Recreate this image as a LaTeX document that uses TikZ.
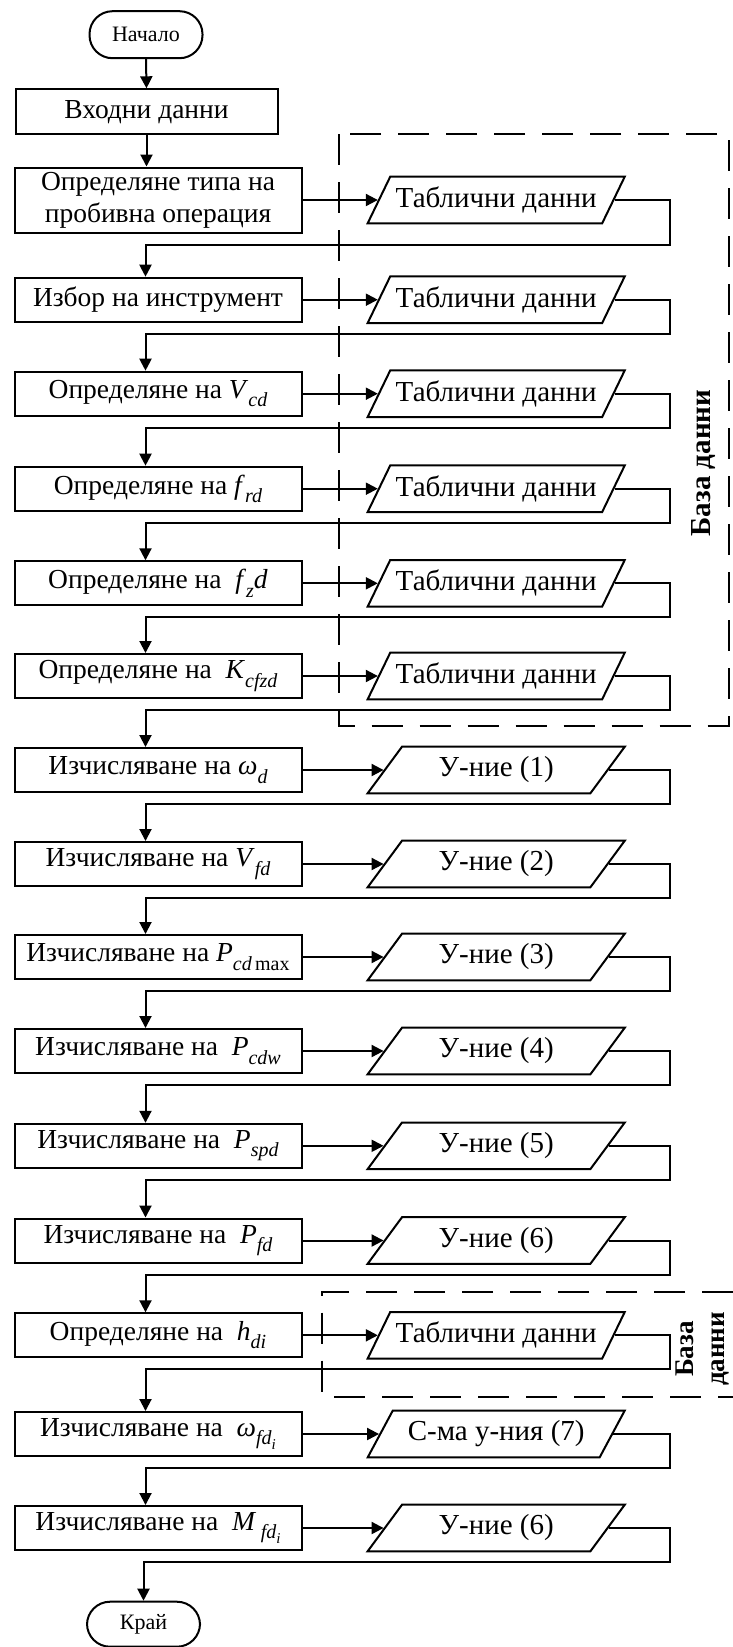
\documentclass[tikz,border=0pt]{standalone}
\usepackage{fontspec}
\setmainfont{Liberation Serif}
\newfontfamily\dbfont{Liberation Serif}
\usetikzlibrary{arrows.meta,shapes.geometric}

\newcommand{\sbs}[1]{\raisebox{-0.3em}{\fontsize{20}{20}\selectfont #1}}
\newcommand{\sbss}[1]{\raisebox{-0.25em}{\fontsize{15}{15}\selectfont #1}}

\tikzset{
  base/.style={draw, line width=2pt, inner sep=0pt, align=center},
  procbox/.style={base, rectangle, minimum width=287pt, minimum height=44pt, font=\fontsize{27.5}{31.7}\selectfont},
  term/.style={base, rectangle, rounded corners=23pt, minimum width=113pt, minimum height=47pt, font=\fontsize{22}{28}\selectfont},
  databox/.style={base, trapezium, trapezium left angle=50.4, trapezium right angle=129.6, trapezium stretches=true, minimum width=257.7pt, minimum height=46.6pt, inner xsep=2pt, font=\fontsize{29}{32}\selectfont},
  flow/.style={line width=2pt, -{Triangle[length=12pt,width=12pt]}},
  link/.style={line width=2pt},
  dbframe/.style={line width=2pt, dash pattern=on 31pt off 17pt},
  dblabel/.style={rotate=90, align=center, font=\dbfont\bfseries\fontsize{29}{31}\selectfont},
}

\newcommand{\flowrow}[4]{%
  \node[procbox] (b#1) at (158,#2) {#3};
  \node[databox] (d#1) at (496.2,#2) {#4};
  \coordinate (r#1) at (670,{#2+34});
  \draw[flow] (b#1.east) -- (d#1.left side);
}

\begin{document}
\begin{tikzpicture}[x=1pt,y=-1pt]
\useasboundingbox (0,0) rectangle (733,1647);

% terminals and input
\node[term] (start) at (146,34.7) {Начало};
\node[procbox, minimum width=262pt, minimum height=45pt] (bin) at (146.5,111.8) {Входни данни};

% row 0 (taller box)
\node[procbox, minimum height=65pt] (b0) at (158,200) {Определяне типа на\\пробивна операция};
\node[databox] (d0) at (496.2,200) {Таблични данни};
\coordinate (r0) at (670,244.5);
\draw[flow] (b0.east) -- (d0.left side);

\flowrow{1}{299.7}{Избор на инструмент}{Таблични данни}
\flowrow{2}{393.7}{Определяне на \textit{V}\sbs{\textit{cd}}}{Таблични данни}
\flowrow{3}{488.7}{Определяне на \textit{f}\sbs{\textit{rd}}}{Таблични данни}
\flowrow{4}{583.3}{Определяне на \ \textit{f}\sbs{\textit{z}}\textit{d}}{Таблични данни}
\flowrow{5}{676}{Определяне на \ \textit{K}\sbs{\textit{cfzd}}}{Таблични данни}
\flowrow{6}{770}{Изчисляване на \textit{ω}\sbs{\textit{d}}}{У-ние (1)}
\flowrow{7}{864}{Изчисляване на \textit{V}\sbs{\textit{fd}}}{У-ние (2)}
\flowrow{8}{957}{Изчисляване на \textit{P}\sbs{\textit{cd}\,max}}{У-ние (3)}
\flowrow{9}{1051}{Изчисляване на \ \textit{P}\sbs{\textit{cdw}}}{У-ние (4)}
\flowrow{10}{1145.8}{Изчисляване на \ \textit{P}\sbs{\textit{spd}}}{У-ние (5)}
\flowrow{11}{1240.5}{Изчисляване на \ \textit{P}\sbs{\textit{fd}}}{У-ние (6)}
\flowrow{12}{1335.3}{Определяне на \ \textit{h}\sbs{\textit{di}}}{Таблични данни}
\flowrow{13}{1434}{Изчисляване на \ \textit{ω}\sbs{\textit{fd}\sbss{\textit{i}}}}{С-ма у-ния (7)}
\flowrow{14}{1528}{Изчисляване на \ \textit{M}\,\sbs{\textit{fd}\sbss{\textit{i}}}}{У-ние (6)}

\node[term, minimum height=45pt] (end) at (143.5,1624.2) {Край};

% vertical flow
\draw[flow] (start.south) -- (bin.north);
\draw[flow] (bin.south) -- (bin.south |- b0.north);
\foreach \i/\j in {0/1,1/2,2/3,3/4,4/5,5/6,6/7,7/8,8/9,9/10,10/11,11/12,12/13,13/14}{
  \draw[flow] (d\i.right side) -| (r\i) -| ([xshift=-12.5pt]b\j.north);
}
\draw[flow] (d14.right side) -| (r14) -| (end.north);

% database frames
\draw[dbframe] (339.3,134) rectangle (728.5,725.7);
\node[dblabel] (db1) at (704,463) {База данни};
\draw[dbframe] (733,1291.7) -- (322,1291.7) -- (322,1396.7) -- (733,1396.7);
\node[dblabel, font=\dbfont\bfseries\fontsize{27}{31}\selectfont] (db2) at (702,1349) {База\\данни};
\end{tikzpicture}
\end{document}
